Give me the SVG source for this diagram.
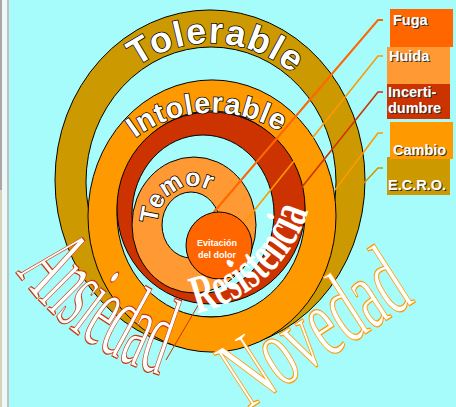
<svg xmlns="http://www.w3.org/2000/svg" width="456" height="407" viewBox="0 0 456 407">
<defs>
<style>
.ring{stroke:#000;stroke-width:1;fill-rule:evenodd}
.ln{fill:none;stroke-linejoin:miter}
.arc{font-family:"Liberation Sans",Arial,sans-serif;font-weight:bold;fill:#fff;stroke:#000;stroke-width:1.5}
.box{font-family:"Liberation Sans",Arial,sans-serif;font-weight:bold;font-size:14.5px;fill:#fff}
.sh{fill:#333}
.serif{font-family:"Liberation Serif","Times New Roman",serif}
</style>
<path id="pTol" d="M79,180 A131,137 0 0 1 341,180"/>
<path id="pInt" d="M93.2,221.5 A119,106 0 0 1 330.8,210.5"/>
<path id="pTem" d="M159.2,238.3 A36,39 0 0 1 220.6,199.9"/>
<path id="pRes" d="M197,313 A150,150 0 0 0 312,196"/>
<path id="pAns" d="M16,272 A270,270 0 0 0 170,378"/>
<path id="pNov" d="M248,410 L418,300"/>
</defs>
<rect width="456" height="407" fill="#A6FBFB"/>
<rect x="0" y="0" width="2" height="190" fill="#A8A8A8"/>
<rect x="0" y="190" width="2" height="217" fill="#D4D4B8"/>
<rect x="2" y="0" width="5" height="407" fill="#EEF8F8"/>
<rect x="7" y="0" width="2" height="407" fill="#C0C0C0"/>

<g id="ring-tolerable">
<path class="ring" fill="#CC9900" d="M55,180 a155,170 0 1 0 310,0 a155,170 0 1 0 -310,0 Z M86,182 a125,135 0 1 0 250,0 a125,135 0 1 0 -250,0 Z"/>
</g>
<g id="ring-intolerable">
<path class="ring" fill="#FF9900" d="M88,216 a124,136 0 1 0 248,0 a124,136 0 1 0 -248,0 Z M117,214 a94,103 0 1 0 188,0 a94,103 0 1 0 -188,0 Z"/>
</g>
<g id="ring-red">
<path class="ring" fill="#CC3300" d="M117,208 a94,96 0 1 0 188,0 a94,96 0 1 0 -188,0 Z M132,214 a71,79 0 1 0 142,0 a71,79 0 1 0 -142,0 Z"/>
</g>
<g id="ring-temor">
<path class="ring" fill="#FF9933" d="M132,225 a62,68 0 1 0 124,0 a62,68 0 1 0 -124,0 Z M162,225 a29,33 0 1 0 58,0 a29,33 0 1 0 -58,0 Z"/>
</g>

<g id="connectors">
<polyline class="ln" stroke="#FF6600" stroke-width="2" points="383,20 378,20 213,213"/>
<polyline class="ln" stroke="#FF9900" stroke-width="1.6" points="383,56 378,56 245,222"/>
<polyline class="ln" stroke="#CC3300" stroke-width="1.6" points="383,92 378,92 290,202"/>
<polyline class="ln" stroke="#FF9900" stroke-width="1.6" points="383,133 378,133 335,190"/>
<polyline class="ln" stroke="#CC9900" stroke-width="1.6" points="383,168 378,168 364,183"/>
<line x1="200" y1="302" x2="166" y2="360" stroke="#CC3300" stroke-width="1"/>
</g>

<g id="evitacion">
<ellipse cx="219" cy="245.5" rx="33" ry="33.5" fill="#FF6600" stroke="#000" stroke-width="1"/>
<text x="217" y="246" text-anchor="middle" font-family="Liberation Sans,Arial,sans-serif" font-weight="bold" font-size="9" fill="#fff">Evitación</text>
<text x="217" y="257.5" text-anchor="middle" font-family="Liberation Sans,Arial,sans-serif" font-weight="bold" font-size="9" fill="#fff">del dolor</text>
<circle cx="232" cy="263" r="1.8" fill="#fff"/>
</g>

<g id="label-tolerable"><text class="arc" font-size="36" paint-order="stroke"><textPath href="#pTol" startOffset="51.4%" text-anchor="middle" textLength="168" lengthAdjust="spacing">Tolerable</textPath></text></g>
<g id="label-intolerable"><text class="arc" font-size="29" paint-order="stroke"><textPath href="#pInt" startOffset="50%" text-anchor="middle" textLength="154" lengthAdjust="spacing">Intolerable</textPath></text></g>
<g id="label-temor"><text class="arc" font-size="25" paint-order="stroke"><textPath href="#pTem" startOffset="50%" text-anchor="middle" textLength="75" lengthAdjust="spacing">Temor</textPath></text></g>
<g id="label-resistencia"><text class="serif" font-size="54" font-weight="bold" fill="#fff"><textPath href="#pRes" textLength="158" lengthAdjust="spacingAndGlyphs">Resistencia</textPath></text></g>
<g id="label-ansiedad"><text class="serif" font-size="112" fill="#fff" stroke="#C83A10" stroke-width="1.3"><textPath href="#pAns" textLength="180" lengthAdjust="spacingAndGlyphs">Ansiedad</textPath></text></g>
<g id="label-novedad"><text class="serif" font-size="102" fill="#fff" stroke="#FF9900" stroke-width="1.3"><textPath href="#pNov" textLength="200" lengthAdjust="spacingAndGlyphs">Novedad</textPath></text></g>

<g id="box-fuga">
<rect x="390" y="9" width="63" height="38" fill="#FF6600"/>
<text class="box sh" x="394" y="26">Fuga</text><text class="box" x="393" y="25">Fuga</text>
</g>
<g id="box-huida">
<rect x="387" y="47" width="63" height="37" fill="#FF9933"/>
<text class="box sh" x="390" y="62">Huida</text><text class="box" x="389" y="61">Huida</text>
</g>
<g id="box-incertidumbre">
<rect x="387" y="84" width="63" height="35" fill="#CC3300"/>
<text class="box sh" x="389" y="98">Incerti-</text><text class="box" x="388" y="97">Incerti-</text>
<text class="box sh" x="389" y="114">dumbre</text><text class="box" x="388" y="113">dumbre</text>
</g>
<g id="box-ecro">
<rect x="387" y="157" width="63" height="38" fill="#CC9900"/>
<text class="box sh" x="389" y="191">E.C.R.O.</text><text class="box" x="388" y="190">E.C.R.O.</text>
</g>
<g id="box-cambio">
<rect x="390" y="122" width="63" height="37" fill="#FF9900"/>
<text class="box sh" x="394" y="156">Cambio</text><text class="box" x="393" y="155">Cambio</text>
</g>
</svg>
